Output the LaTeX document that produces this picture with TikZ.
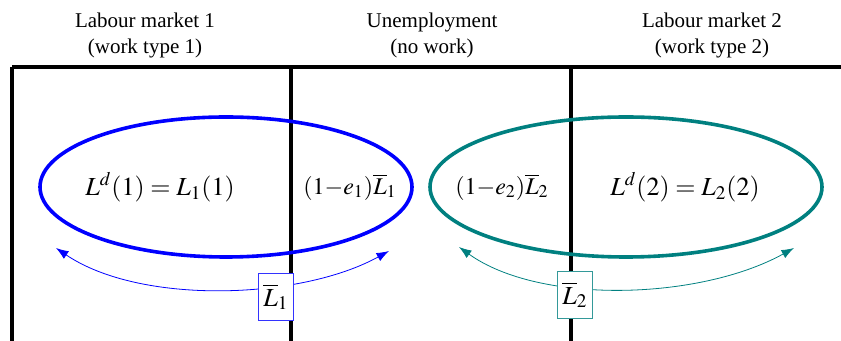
\documentclass[tikz,border=0pt]{standalone}
\usepackage{mathptmx}
\usepackage{fontspec}
\setmainfont{Liberation Serif}
\usepackage{xcolor}
\usepackage{tikz}
\usetikzlibrary{arrows.meta,positioning,calc,shapes.geometric}
\definecolor{mktblue}{RGB}{0,0,255}
\definecolor{mktteal}{RGB}{0,128,128}

\begin{document}
\begin{tikzpicture}[x=0.5pt,y=-0.5pt,
  head/.style={font=\fontsize{10.5}{13}\selectfont,align=center},
  wall/.style={line width=1.6pt,black},
  pool/.style={ellipse,line width=1.8pt,minimum width=186pt,minimum height=70pt,inner sep=0pt},
  lab/.style={font=\fontsize{13}{15}\selectfont},
  slab/.style={font=\fontsize{12}{14}\selectfont},
  tag/.style={draw,fill=white,line width=0.5pt,minimum width=17.5pt,minimum height=23.5pt,inner sep=1pt,font=\fontsize{13}{15}\selectfont},
  arr/.style={{Latex[length=2.2mm,width=1.6mm]}-{Latex[length=2.2mm,width=1.6mm]},line width=0.4pt}]
\useasboundingbox (0,0) rectangle (841,341);
% column headings
\node[head] (h1) at (145,35) {Labour market 1\\(work type 1)};
\node[head] (h0) at (432,35) {Unemployment\\(no work)};
\node[head] (h2) at (712,35) {Labour market 2\\(work type 2)};
% frame
\coordinate (tl) at (12,67);
\coordinate (tr) at (841,67);
\draw[wall] (tl) -- (tr);
\draw[wall] (12,67) -- (12,341);
\draw[wall] (291,67) -- (291,341);
\draw[wall] (571,67) -- (571,341);
% the two markets
\node[pool,draw=mktblue] (e1) at (226,187) {};
\node[pool,draw=mktteal,minimum width=196pt] (e2) at (626,187) {};
\node[lab] (d1) at (160,187) {$L^d(1) = L_1(1)$};
\node[slab] (u1) at (350,187) {$(1{-}e_1)\overline{L}_1$};
\node[slab] (u2) at (502,187) {$(1{-}e_2)\overline{L}_2$};
\node[lab] (d2) at (685,187) {$L^d(2) = L_2(2)$};
% labour force flows
\coordinate (a1) at (56,248);
\coordinate (b1) at (389,251);
\coordinate (a2) at (459,247);
\coordinate (b2) at (794,248);
\draw[arr,mktblue] (a1) .. controls (140,305) and (300,300) .. (b1);
\draw[arr,mktteal] (a2) .. controls (540,305) and (700,300) .. (b2);
\node[tag,draw=mktblue!80] (t1) at (276,297) {$\overline{L}_1$};
\node[tag,draw=mktteal!80] (t2) at (575,295) {$\overline{L}_2$};
\end{tikzpicture}
\end{document}
